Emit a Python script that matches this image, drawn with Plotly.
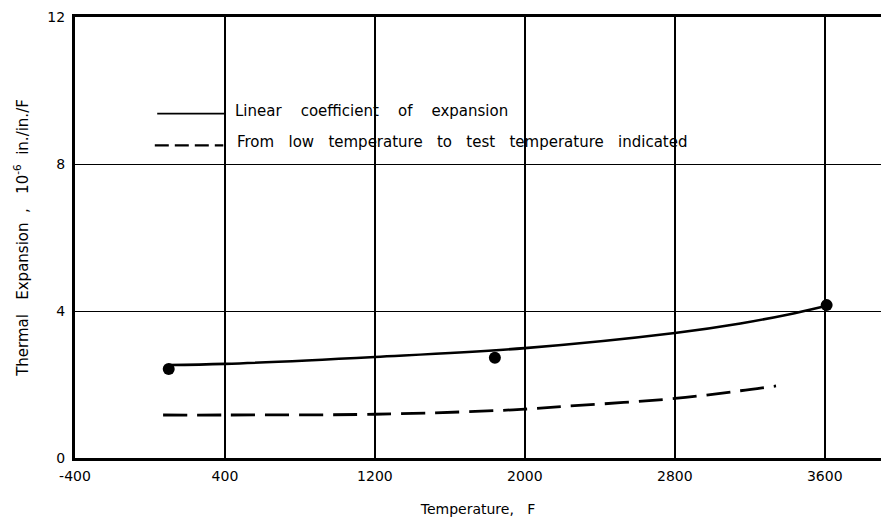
import plotly.graph_objects as go

# Data
points_x = [100, 1840, 3610]
points_y = [2.42, 2.73, 4.16]

linear_x = [100, 400, 1200, 2000, 2800, 3150, 3400, 3600]
linear_y = [2.53, 2.56, 2.75, 2.99, 3.40, 3.66, 3.90, 4.13]

mean_x = [70, 400, 1200, 1800, 2000, 2200, 2800, 3150, 3340]
mean_y = [1.17, 1.17, 1.19, 1.28, 1.33, 1.40, 1.62, 1.83, 1.96]

x_ticks = [-400, 400, 1200, 2000, 2800, 3600]
x_tick_labels = ["-400", "400", "1200", "2000", "2800", "3600"]
y_ticks = [0, 4, 8, 12]
y_tick_labels = ["0", "4", "8", "12"]

NB = "\u00a0"
legend_labels = [(NB * 4).join(["Linear", "coefficient", "of", "expansion"]),
                 (NB * 3).join(["From", "low", "temperature", "to", "test", "temperature", "indicated"])]

FONT = "DejaVu Sans"

fig = go.Figure()
fig.add_trace(go.Scatter(x=linear_x, y=linear_y, mode="lines", line=dict(color="black", width=2.6, shape="spline"),
                         showlegend=False, hoverinfo="skip"))
fig.add_trace(go.Scatter(x=mean_x, y=mean_y, mode="lines",
                         line=dict(color="black", width=2.8, dash="24px,10px", shape="spline"),
                         showlegend=False, hoverinfo="skip"))
fig.add_trace(go.Scatter(x=points_x, y=points_y, mode="markers", marker=dict(color="black", size=12),
                         showlegend=False))

# Legend keys (drawn in paper coordinates)
fig.add_shape(type="line", xref="paper", yref="paper", x0=0.102, x1=0.186, y0=0.781, y1=0.781,
              line=dict(color="black", width=1.6))
fig.add_shape(type="line", xref="paper", yref="paper", x0=0.099, x1=0.184, y0=0.709, y1=0.709,
              line=dict(color="black", width=2.4, dash="14px,6px"))
fig.add_annotation(text=legend_labels[0], xref="paper", yref="paper", x=0.196, y=0.787, xanchor="left",
                   yanchor="middle", showarrow=False, font=dict(family=FONT, size=15, color="black"))
fig.add_annotation(text=legend_labels[1], xref="paper", yref="paper", x=0.198, y=0.716, xanchor="left",
                   yanchor="middle", showarrow=False, font=dict(family=FONT, size=15, color="black"))

fig.update_layout(
    width=881, height=528,
    margin=dict(l=75, r=0, t=17, b=70, autoexpand=False),
    paper_bgcolor="white", plot_bgcolor="white",
    font=dict(family=FONT, size=13, color="black"),
    xaxis=dict(range=[-400, 3900], tickmode="array", tickvals=x_ticks, ticktext=x_tick_labels,
               showgrid=True, gridcolor="black", gridwidth=1.8,
               showline=True, linecolor="black", linewidth=2.6, mirror=True,
               ticks="outside", ticklen=0, tickfont=dict(family=FONT, size=14),
               ticklabelstandoff=3,
               zeroline=False, automargin=False,
               title=dict(text="Temperature," + NB * 3 + "F", font=dict(family=FONT, size=14), standoff=22)),
    yaxis=dict(range=[0, 12], tickmode="array", tickvals=y_ticks, ticktext=y_tick_labels,
               showgrid=True, gridcolor="black", gridwidth=1.3,
               showline=True, linecolor="black", linewidth=3,
               ticks="outside", ticklen=0, tickfont=dict(family=FONT, size=14),
               ticklabelstandoff=4,
               zeroline=False, automargin=False,
               title=dict(text="Thermal" + NB * 3 + "Expansion" + NB * 2 + "," + NB * 3 + "10<sup>-6</sup>" + NB * 2 + "in./in./F",
                          font=dict(family=FONT, size=15), standoff=16)),
)

fig.write_html("out.html", config={"displayModeBar": False},
               post_script="document.body.style.margin='0';")
